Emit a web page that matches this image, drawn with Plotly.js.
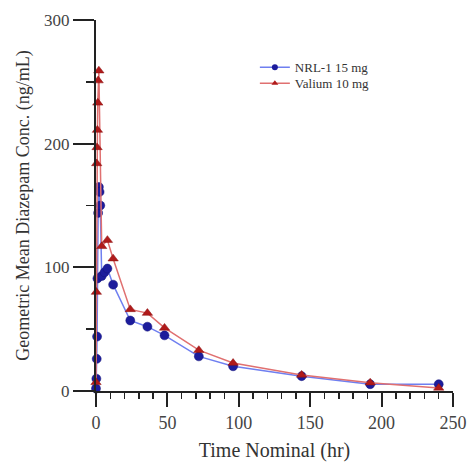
<!DOCTYPE html>
<html><head><meta charset="utf-8">
<script src="https://cdn.plot.ly/plotly-3.0.1.min.js"></script>
<style>html,body{margin:0;padding:0;background:#fff}#c{width:468px;height:464px}</style>
</head><body><div id="c"></div>
<script>
const nrlTime = [0, 0.25, 0.5, 0.75, 1, 1.5, 2, 2.5, 3, 4, 6, 8, 12, 24, 36, 48, 72, 96, 144, 192, 240];
const nrlConc = [2, 10, 26, 44, 91, 144, 165, 161, 150, 93, 96, 99, 86, 57, 52, 45, 28, 20, 12, 5.5, 5.5];
const valTime = [0, 0.25, 0.5, 0.75, 1, 1.25, 1.5, 2, 4, 8, 12, 24, 36, 48, 72, 96, 144, 192, 240];
const valConc = [7, 80, 184, 197, 211, 233, 251, 259, 117, 122, 107, 66, 63, 51, 33, 22.6, 13, 6.7, 2.5];
const seriesNames = ['NRL-1 15 mg', 'Valium 10 mg'];
const xTitle = 'Time Nominal (hr)';
const yTitle = 'Geometric Mean Diazepam Conc. (ng/mL)';

const serif = 'Liberation Serif, Times New Roman, serif';
const blueLine = '#6f7ff0', blueMark = '#1c1c9c';
const redLine = '#e07070', redMark = '#b01a1a';
const traces = [
  {x: nrlTime, y: nrlConc, name: seriesNames[0], type: 'scatter', mode: 'lines+markers', cliponaxis: false, showlegend: false,
   line: {color: blueLine, width: 1.5},
   marker: {symbol: 'circle', size: 9, color: blueMark, line: {color: '#14147a', width: 0.5}}},
  {x: valTime, y: valConc, name: seriesNames[1], type: 'scatter', mode: 'lines+markers', cliponaxis: false, showlegend: false,
   line: {color: redLine, width: 1.5},
   marker: {symbol: 'triangle-up', size: 9, color: redMark, line: {color: '#8a1010', width: 0.5}}},
  // legend-only entries (a single empty point), smaller legend markers like the reference
  {x: [null], y: [null], name: seriesNames[0], type: 'scatter', mode: 'lines+markers', legend: 'legend', showlegend: true,
   line: {color: blueLine, width: 1.5}, marker: {symbol: 'circle', size: 6, color: blueMark}},
  {x: [null], y: [null], name: seriesNames[1], type: 'scatter', mode: 'lines+markers', legend: 'legend2', showlegend: true,
   line: {color: redLine, width: 1.5}, marker: {symbol: 'triangle-up', size: 6, color: redMark}}
];
const legendCommon = {xanchor: 'left', yanchor: 'top', bgcolor: 'rgba(0,0,0,0)',
  font: {family: serif, size: 13, color: '#333'}, itemwidth: 30};
const layout = {
  width: 468, height: 464,
  margin: {l: 96, r: 15, t: 20, b: 73},
  paper_bgcolor: '#fff', plot_bgcolor: '#fff',
  showlegend: true,
  legend: Object.assign({x: 0.445, y: 0.913}, legendCommon),
  legend2: Object.assign({x: 0.445, y: 0.870}, legendCommon),
  xaxis: {range: [0, 250], dtick: 50, tick0: 0, showgrid: false, zeroline: false,
          showline: true, linecolor: '#222', linewidth: 2,
          ticks: 'outside', ticklen: 14, tickwidth: 2, tickcolor: '#222',
          minor: {dtick: 10, ticks: 'outside', ticklen: 6, tickwidth: 1.5, tickcolor: '#222', showgrid: false},
          tickfont: {family: serif, size: 18, color: '#444'},
          title: {text: xTitle, font: {family: serif, size: 20, color: '#333'}, standoff: 11}},
  yaxis: {range: [0, 300], dtick: 100, tick0: 0, showgrid: false, zeroline: false,
          showline: true, linecolor: '#222', linewidth: 2,
          ticks: 'outside', ticklen: 21, tickwidth: 2, tickcolor: '#222',
          minor: {dtick: 50, ticks: 'outside', ticklen: 8, tickwidth: 1.5, tickcolor: '#222', showgrid: false},
          tickfont: {family: serif, size: 17, color: '#444'},
          title: {text: yTitle, font: {family: serif, size: 18, color: '#333'}, standoff: 10}}
};
Plotly.newPlot('c', traces, layout, {displayModeBar: false, staticPlot: true});
</script></body></html>
